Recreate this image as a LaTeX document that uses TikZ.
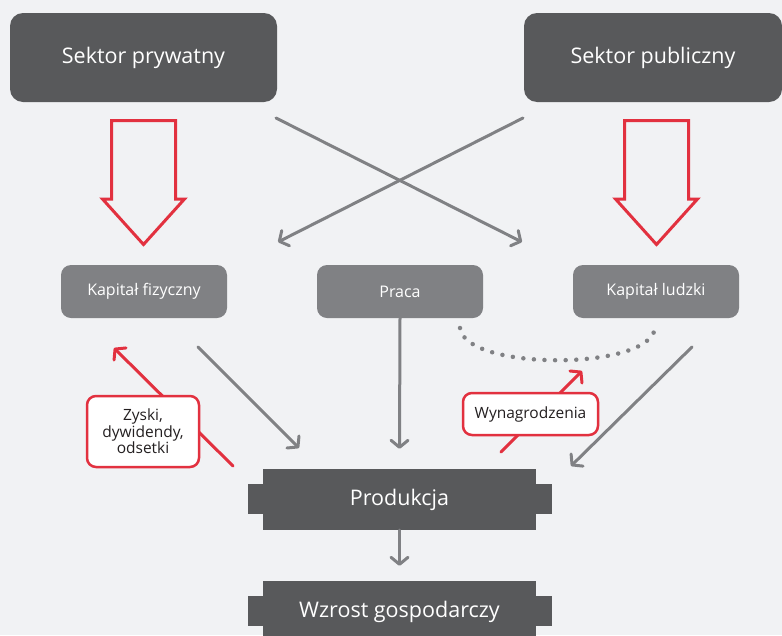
\documentclass[tikz,border=0pt]{standalone}
\usepackage{fontspec}
\setmainfont{Open Sans}
\usetikzlibrary{arrows.meta,calc}
\definecolor{bg}{HTML}{F1F2F4}
\definecolor{dark}{HTML}{58595B}
\definecolor{mid}{HTML}{808184}
\definecolor{myred}{HTML}{E2313F}
\definecolor{txt}{HTML}{231F20}
\begin{document}
\begin{tikzpicture}[x=1pt,y=-1pt,
  sector/.style={fill=dark,rounded corners=13pt,minimum width=#1,minimum height=89pt,inner sep=0pt,text=white,font=\fontsize{21.5}{25}\selectfont},
  factor/.style={fill=mid,rounded corners=10pt,minimum width=166pt,minimum height=53pt,inner sep=0pt,text=white,font=\fontsize{16}{19}\selectfont},
  stage/.style={fill=dark,minimum width=273pt,minimum height=61pt,inner sep=0pt,text=white,font=\fontsize{21.5}{25}\selectfont},
  flow/.style={draw=mid,line width=3pt,line cap=round,-{Straight Barb[length=7pt,width=17pt,round]}},
  back/.style={draw=myred,line width=3pt,line cap=round,-{Straight Barb[length=7pt,width=17pt,round]}},
  hollow/.style={draw=myred,line width=3pt,line join=miter},
  lab/.style={fill=white,draw=myred,line width=2.5pt,rounded corners=9pt,align=center,inner sep=0pt,text=txt,font=\fontsize{15.5}{15}\selectfont},
  dots/.style={draw=mid,line width=4.5pt,line cap=round,dash pattern=on 0pt off 10.6pt}
]
\fill[bg] (0,0) rectangle (782,635);
\useasboundingbox (0,0) rectangle (782,635);
\clip (0,0) rectangle (782,635);

% top sectors
\node[sector=267pt] (sp) at (143.5,57.5) {Sektor prywatny};
\node[sector=258pt] (spub) at (653,57.5) {Sektor publiczny};

% factors
\node[factor] (kf) at (144,291.5) {Kapitał fizyczny};
\node[factor] (pr) at (400,291.5) {Praca};
\node[factor] (kl) at (656,291.5) {Kapitał ludzki};

% stages
\fill[dark] (248,484) rectangle (552,514);
\node[stage] (prod) at (399.5,499.5) {Produkcja};
\fill[dark] (248,596) rectangle (552,626);
\node[stage] (wz) at (399.5,611.5) {Wzrost gospodarczy};

% hollow red arrows
\coordinate (ha) at (143.5,0);
\draw[hollow] ($(ha)+(-32,120.5)$) -- ($(ha)+(32,120.5)$) -- ($(ha)+(32,199)$) -- ($(ha)+(41,199)$)
  -- ($(ha)+(0,244.5)$) -- ($(ha)+(-41,199)$) -- ($(ha)+(-32,199)$) -- cycle;
\coordinate (hb) at (656.5,0);
\draw[hollow] ($(hb)+(-32,120.5)$) -- ($(hb)+(32,120.5)$) -- ($(hb)+(32,199)$) -- ($(hb)+(41,199)$)
  -- ($(hb)+(0,244.5)$) -- ($(hb)+(-41,199)$) -- ($(hb)+(-32,199)$) -- cycle;

% cross arrows
\coordinate (xa1) at (276,118);
\coordinate (xa2) at (522,242);
\coordinate (xb1) at (523,118);
\coordinate (xb2) at (278,242);
\draw[flow] (xa1) -- (xa2);
\draw[flow] (xb1) -- (xb2);

% factors to production
\coordinate (fa1) at (198,347);
\coordinate (fa2) at (299,448);
\draw[flow] (fa1) -- (fa2);
\draw[flow] (pr.south) -- ($(prod.north)+(0,-20)$);
\coordinate (fc1) at (692,347);
\coordinate (fc2) at (571,466);
\draw[flow] (fc1) -- (fc2);
\draw[flow] (prod.south) -- ($(wz.north)+(0,-15)$);

% dotted link
\coordinate (d1) at (460,328);
\coordinate (d2) at (655,328);
\draw[dots] (d1) .. controls (465,371) and (650,371) .. (d2);

% red return arrows
\coordinate (ra1) at (233,466);
\coordinate (ra2) at (114,348);
\draw[back] (ra1) -- (ra2);
\coordinate (rb1) at (501,452);
\coordinate (rb2) at (582,371);
\draw[back] (rb1) -- (rb2);

\node[lab,minimum width=112pt,minimum height=71pt] (zy) at (143,431.5) {Zyski,\\dywidendy,\\odsetki};
\node[lab,minimum width=135pt,minimum height=42pt] (wy) at (530.5,414) {Wynagrodzenia};
\end{tikzpicture}
\end{document}
